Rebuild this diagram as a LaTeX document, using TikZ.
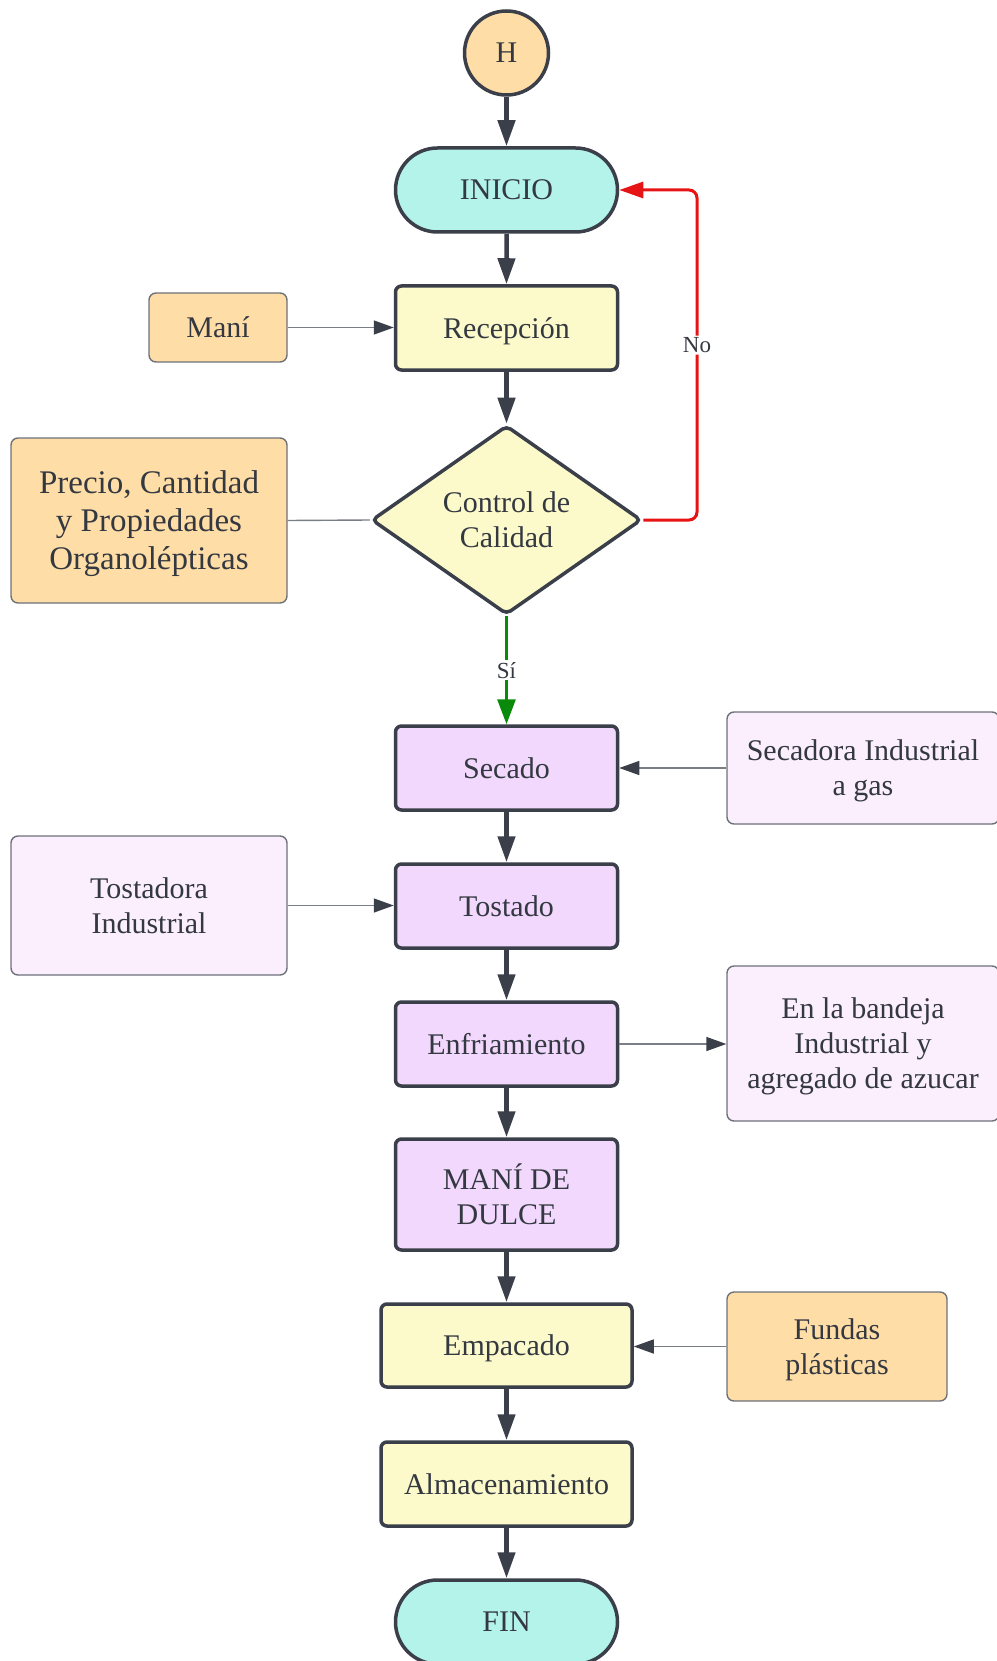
\documentclass[tikz,border=0pt]{standalone}
\usepackage{fontspec}
\setmainfont{Liberation Serif}
\usetikzlibrary{arrows.meta,shapes.geometric,shapes.misc}
\definecolor{ink}{HTML}{3A3F49}
\definecolor{txt}{HTML}{333841}
\definecolor{thinline}{HTML}{7A7E86}
\definecolor{peach}{HTML}{FFDDA6}
\definecolor{aqua}{HTML}{B4F3EA}
\definecolor{cream}{HTML}{FCFACA}
\definecolor{lilac}{HTML}{F1D8FC}
\definecolor{pale}{HTML}{FBEEFD}
\definecolor{nored}{HTML}{E61414}
\definecolor{sigreen}{HTML}{0A8A0A}

\begin{document}
\begin{tikzpicture}[x=1pt,y=-1pt,
  every node/.style={text=txt, font=\fontsize{30}{35}\selectfont, align=center, inner sep=0pt, text depth=0pt},
  mainbox/.style={draw=ink, line width=3.5pt, rounded corners=6pt, minimum width=222pt, minimum height=84pt},
  terminal/.style={rounded rectangle, draw=ink, line width=3.5pt, fill=aqua, minimum width=222pt, minimum height=84pt},
  sidebox/.style={draw=thinline!80!ink, line width=1.4pt, rounded corners=7pt},
  flow/.style={draw=ink, line width=4.5pt, -{Triangle[length=26pt,width=17pt]}},
  feed/.style={draw=thinline, line width=1.4pt, -{Triangle[length=20pt,width=14pt,color=ink]}},
  lab/.style={fill=white, font=\fontsize{23}{26}\selectfont, inner sep=2pt, text depth=0pt}
]
\useasboundingbox (0,0) rectangle (996,1661);

% main column
\node[circle, draw=ink, line width=3.5pt, fill=peach, minimum size=84pt] (h) at (506.5,53) {H};
\node[terminal] (ini) at (506.5,190) {INICIO};
\node[mainbox, fill=cream] (rec) at (506.5,328) {Recepción};
\node[diamond, draw=ink, line width=3.5pt, fill=cream, minimum width=270pt, minimum height=189pt,
      shape aspect=1.43, rounded corners=5pt] (qc) at (506.5,520) {Control de\\Calidad};
\node[mainbox, fill=lilac] (sec) at (506.5,768) {Secado};
\node[mainbox, fill=lilac] (tos) at (506.5,906) {Tostado};
\node[mainbox, fill=lilac] (enf) at (506.5,1044) {Enfriamiento};
\node[mainbox, fill=lilac, minimum height=111pt] (dulce) at (506.5,1194.5) {MANÍ DE\\DULCE};
\node[mainbox, fill=cream, minimum width=251pt, minimum height=83pt] (emp) at (506.5,1345.5) {Empacado};
\node[mainbox, fill=cream, minimum width=251pt] (alm) at (506.5,1484) {Almacenamiento};
\node[terminal] (fin) at (506.5,1622) {FIN};

% inputs and resources
\node[sidebox, fill=peach, minimum width=138pt, minimum height=69pt] (mani) at (218,327.5) {Maní};
\node[sidebox, fill=peach, minimum width=276pt, minimum height=165pt, font=\fontsize{33}{38}\selectfont]
     (pre) at (149,520.5) {Precio, Cantidad\\y Propiedades\\Organolépticas};
\node[sidebox, fill=pale, minimum width=272pt, minimum height=112pt] (sind) at (863,768) {Secadora Industrial\\a gas};
\node[sidebox, fill=pale, minimum width=276pt, minimum height=139pt] (tind) at (149,905.5) {Tostadora\\Industrial};
\node[sidebox, fill=pale, minimum width=272pt, minimum height=155pt] (band) at (863,1043.5) {En la bandeja\\Industrial y\\agregado de azucar};
\node[sidebox, fill=peach, minimum width=220pt, minimum height=109pt] (fun) at (837,1346.5) {Fundas\\plásticas};

% process flow
\draw[flow] (h) -- (ini);
\draw[flow] (ini) -- (rec);
\draw[flow] (rec) -- (qc);
\draw[draw=sigreen, line width=3pt, -{Triangle[length=25pt,width=18pt]}]
  (qc) -- node[lab]{Sí} (sec);
\coordinate (loop) at (697,0);
\draw[draw=nored, line width=3pt, rounded corners=8pt, -{Triangle[length=24pt,width=16pt]}]
  (qc.east) -- (qc.east -| loop) -- node[lab, pos=0.53]{No} (ini.east -| loop) -- (ini.east);
\draw[flow] (sec) -- (tos);
\draw[flow] (tos) -- (enf);
\draw[flow] (enf) -- (dulce);
\draw[flow] (dulce) -- (emp);
\draw[flow] (emp) -- (alm);
\draw[flow] (alm) -- (fin);

% side links
\draw[feed] (mani.east) -- (mani.east -| rec.west);
\draw[draw=thinline, line width=1.4pt] (pre.east) -- (qc.west);
\draw[feed] (sind.west) -- (sind.west -| sec.east);
\draw[feed] (tind.east) -- (tind.east -| tos.west);
\draw[feed] (enf.east) -- (enf.east -| band.west);
\draw[feed] (fun.west) -- (fun.west -| emp.east);
\end{tikzpicture}
\end{document}
